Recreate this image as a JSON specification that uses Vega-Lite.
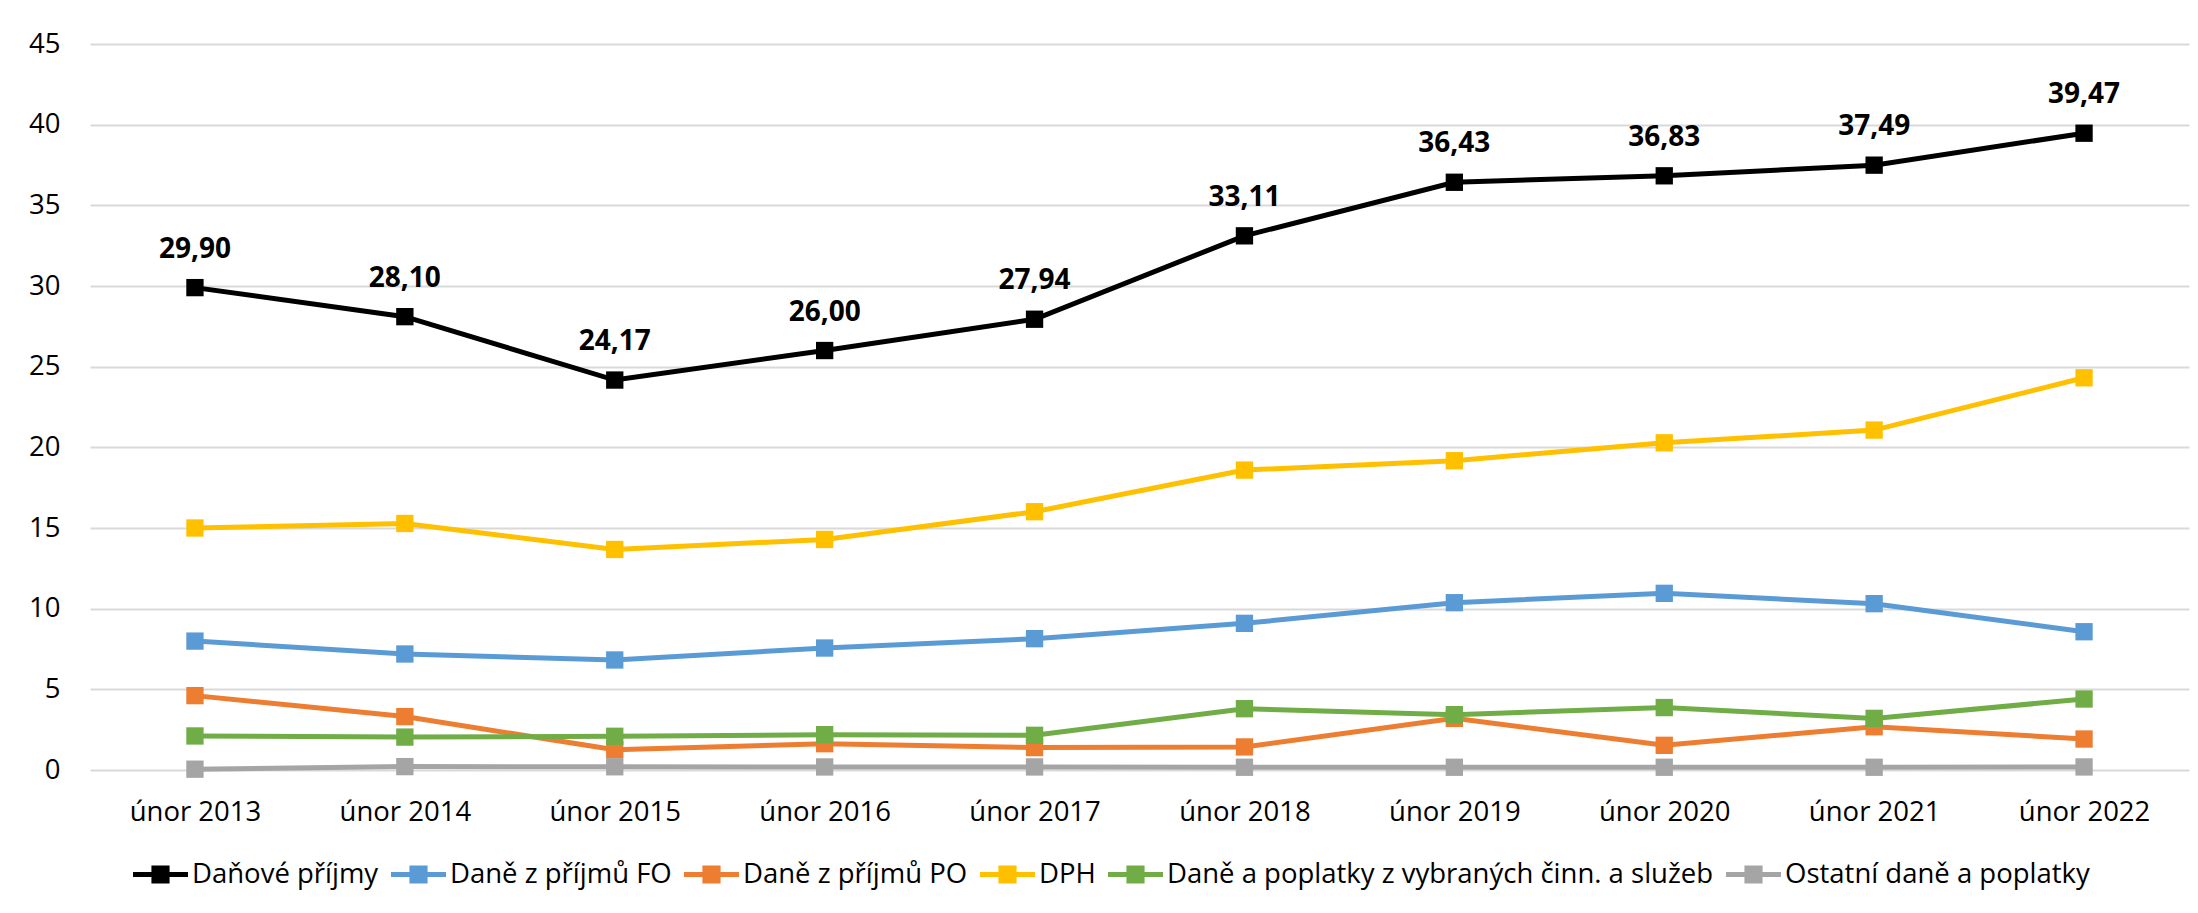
{
  "$schema": "https://vega.github.io/schema/vega-lite/v6.json",
  "width": 2099,
  "height": 726,
  "autosize": {"type": "none"},
  "padding": {"left": 90, "top": 44, "right": 9, "bottom": 143},
  "background": "#ffffff",
  "config": {
    "font": "Open Sans",
    "view": {"stroke": null},
    "locale": {"number": {"decimal": ",", "thousands": " ", "grouping": [3], "currency": ["", " Kč"]}}
  },
  "data": {
    "values": [
      {"t": "únor 2013", "s": "Daňové příjmy", "v": 29.90},
      {"t": "únor 2014", "s": "Daňové příjmy", "v": 28.10},
      {"t": "únor 2015", "s": "Daňové příjmy", "v": 24.17},
      {"t": "únor 2016", "s": "Daňové příjmy", "v": 26.00},
      {"t": "únor 2017", "s": "Daňové příjmy", "v": 27.94},
      {"t": "únor 2018", "s": "Daňové příjmy", "v": 33.11},
      {"t": "únor 2019", "s": "Daňové příjmy", "v": 36.43},
      {"t": "únor 2020", "s": "Daňové příjmy", "v": 36.83},
      {"t": "únor 2021", "s": "Daňové příjmy", "v": 37.49},
      {"t": "únor 2022", "s": "Daňové příjmy", "v": 39.47},
      {"t": "únor 2013", "s": "Daně z příjmů FO", "v": 7.99},
      {"t": "únor 2014", "s": "Daně z příjmů FO", "v": 7.19},
      {"t": "únor 2015", "s": "Daně z příjmů FO", "v": 6.82},
      {"t": "únor 2016", "s": "Daně z příjmů FO", "v": 7.56},
      {"t": "únor 2017", "s": "Daně z příjmů FO", "v": 8.14},
      {"t": "únor 2018", "s": "Daně z příjmů FO", "v": 9.09},
      {"t": "únor 2019", "s": "Daně z příjmů FO", "v": 10.37},
      {"t": "únor 2020", "s": "Daně z příjmů FO", "v": 10.95},
      {"t": "únor 2021", "s": "Daně z příjmů FO", "v": 10.31},
      {"t": "únor 2022", "s": "Daně z příjmů FO", "v": 8.57},
      {"t": "únor 2013", "s": "Daně z příjmů PO", "v": 4.61},
      {"t": "únor 2014", "s": "Daně z příjmů PO", "v": 3.31},
      {"t": "únor 2015", "s": "Daně z příjmů PO", "v": 1.26},
      {"t": "únor 2016", "s": "Daně z příjmů PO", "v": 1.63},
      {"t": "únor 2017", "s": "Daně z příjmů PO", "v": 1.39},
      {"t": "únor 2018", "s": "Daně z příjmů PO", "v": 1.43},
      {"t": "únor 2019", "s": "Daně z příjmů PO", "v": 3.20},
      {"t": "únor 2020", "s": "Daně z příjmů PO", "v": 1.53},
      {"t": "únor 2021", "s": "Daně z příjmů PO", "v": 2.68},
      {"t": "únor 2022", "s": "Daně z příjmů PO", "v": 1.92},
      {"t": "únor 2013", "s": "DPH", "v": 15.00},
      {"t": "únor 2014", "s": "DPH", "v": 15.28},
      {"t": "únor 2015", "s": "DPH", "v": 13.67},
      {"t": "únor 2016", "s": "DPH", "v": 14.29},
      {"t": "únor 2017", "s": "DPH", "v": 16.01},
      {"t": "únor 2018", "s": "DPH", "v": 18.59},
      {"t": "únor 2019", "s": "DPH", "v": 19.17},
      {"t": "únor 2020", "s": "DPH", "v": 20.28},
      {"t": "únor 2021", "s": "DPH", "v": 21.07},
      {"t": "únor 2022", "s": "DPH", "v": 24.31},
      {"t": "únor 2013", "s": "Daně a poplatky z vybraných činn. a služeb", "v": 2.11},
      {"t": "únor 2014", "s": "Daně a poplatky z vybraných činn. a služeb", "v": 2.04},
      {"t": "únor 2015", "s": "Daně a poplatky z vybraných činn. a služeb", "v": 2.09},
      {"t": "únor 2016", "s": "Daně a poplatky z vybraných činn. a služeb", "v": 2.19},
      {"t": "únor 2017", "s": "Daně a poplatky z vybraných činn. a služeb", "v": 2.15},
      {"t": "únor 2018", "s": "Daně a poplatky z vybraných činn. a služeb", "v": 3.80},
      {"t": "únor 2019", "s": "Daně a poplatky z vybraných činn. a služeb", "v": 3.43},
      {"t": "únor 2020", "s": "Daně a poplatky z vybraných činn. a služeb", "v": 3.87},
      {"t": "únor 2021", "s": "Daně a poplatky z vybraných činn. a služeb", "v": 3.20},
      {"t": "únor 2022", "s": "Daně a poplatky z vybraných činn. a služeb", "v": 4.40},
      {"t": "únor 2013", "s": "Ostatní daně a poplatky", "v": 0.05},
      {"t": "únor 2014", "s": "Ostatní daně a poplatky", "v": 0.21},
      {"t": "únor 2015", "s": "Ostatní daně a poplatky", "v": 0.20},
      {"t": "únor 2016", "s": "Ostatní daně a poplatky", "v": 0.19},
      {"t": "únor 2017", "s": "Ostatní daně a poplatky", "v": 0.19},
      {"t": "únor 2018", "s": "Ostatní daně a poplatky", "v": 0.17},
      {"t": "únor 2019", "s": "Ostatní daně a poplatky", "v": 0.17},
      {"t": "únor 2020", "s": "Ostatní daně a poplatky", "v": 0.17},
      {"t": "únor 2021", "s": "Ostatní daně a poplatky", "v": 0.17},
      {"t": "únor 2022", "s": "Ostatní daně a poplatky", "v": 0.19}
    ]
  },
  "encoding": {
    "x": {
      "field": "t",
      "type": "ordinal",
      "sort": null,
      "scale": {"type": "point", "padding": 0.5},
      "axis": {
        "title": null,
        "labelAngle": 0,
        "domain": false,
        "ticks": false,
        "tickSize": 0,
        "labelPadding": 28,
        "labelFontSize": 27.5,
        "labelColor": "#000000",
        "labelFont": "Open Sans"
      }
    },
    "y": {
      "field": "v",
      "type": "quantitative",
      "scale": {"domain": [0, 45], "nice": false, "zero": true},
      "axis": {
        "title": null,
        "values": [0, 5, 10, 15, 20, 25, 30, 35, 40, 45],
        "domain": false,
        "ticks": false,
        "tickSize": 0,
        "labelPadding": 30,
        "labelFontSize": 27.5,
        "labelColor": "#000000",
        "labelFont": "Open Sans",
        "gridColor": "#d9d9d9",
        "gridWidth": 2
      }
    },
    "color": {
      "field": "s",
      "type": "nominal",
      "sort": null,
      "scale": {
        "domain": ["Daňové příjmy", "Daně z příjmů FO", "Daně z příjmů PO", "DPH", "Daně a poplatky z vybraných činn. a služeb", "Ostatní daně a poplatky"],
        "range": ["#000000", "#5b9bd5", "#ed7d31", "#ffc000", "#70ad47", "#a5a5a5"]
      },
      "legend": {
        "title": null,
        "orient": "none",
        "direction": "horizontal",
        "columns": 6,
        "legendX": 43,
        "legendY": 803,
        "symbolType": "M-1,-0.09H1V0.09H-1Z M-0.33,-0.33H0.33V0.33H-0.33Z",
        "symbolSize": 3025,
        "symbolStrokeWidth": 0,
        "labelFontSize": 27.5,
        "labelFont": "Open Sans",
        "labelColor": "#000000",
        "labelLimit": 1000,
        "labelOffset": 4,
        "columnPadding": 12,
        "encode": {
          "symbols": {"update": {"fill": {"scale": "color", "field": "value"}, "strokeWidth": {"value": 0}}}
        }
      }
    }
  },
  "layer": [
    {"mark": {"type": "line", "strokeWidth": 5}},
    {"mark": {"type": "point", "shape": "square", "filled": true, "size": 300, "opacity": 1}},
    {
      "transform": [{"filter": "datum.s === 'Daňové příjmy'"}],
      "mark": {"type": "text", "fontSize": 28, "fontWeight": "bold", "dy": -38, "baseline": "middle", "align": "center", "font": "Open Sans"},
      "encoding": {
        "text": {"field": "v", "type": "quantitative", "format": ".2f"},
        "color": {"value": "#000000"}
      }
    }
  ]
}
